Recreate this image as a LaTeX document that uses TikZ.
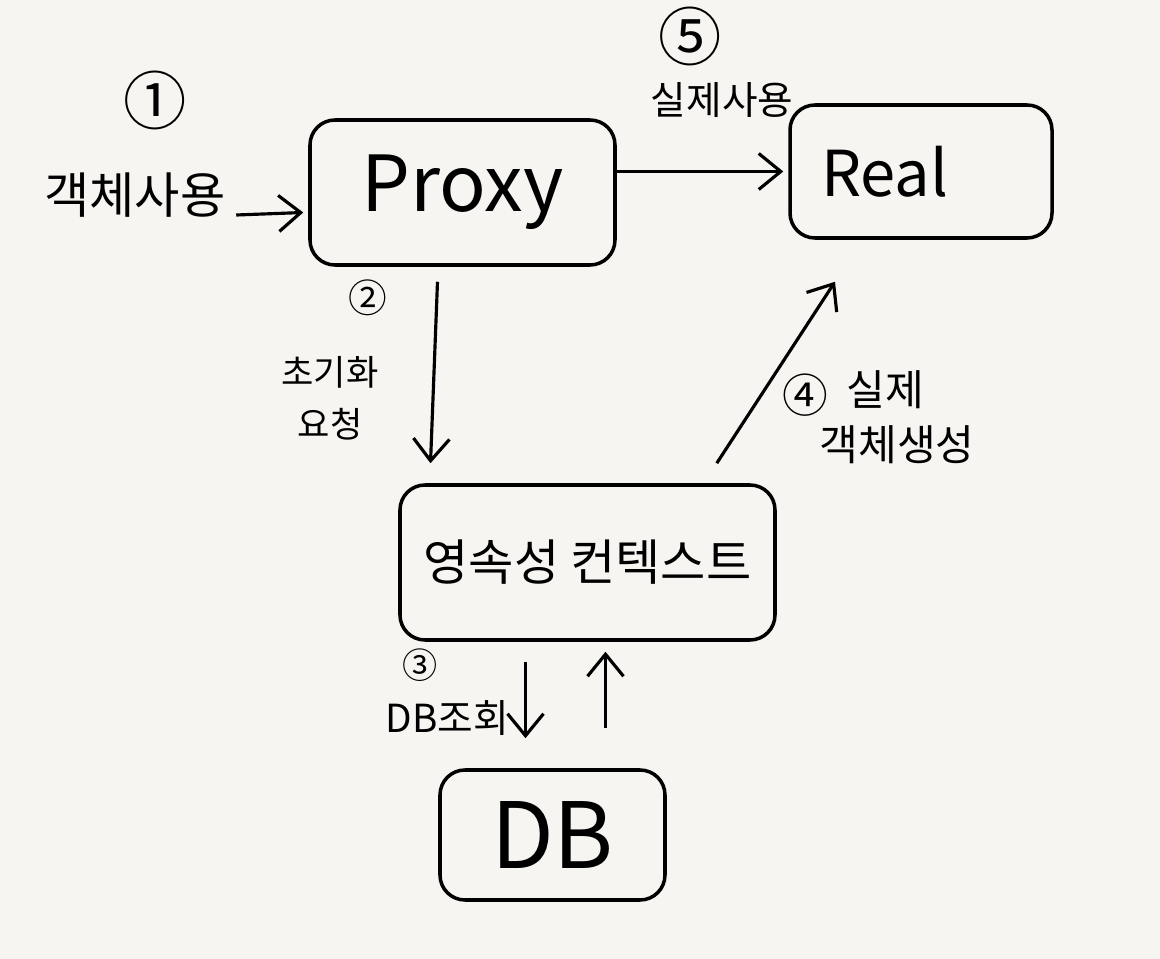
\documentclass[tikz,border=0pt]{standalone}
\usepackage{fontspec}
\setmainfont{Noto Sans CJK KR}
\usetikzlibrary{arrows.meta,calc}
\definecolor{paper}{HTML}{F6F5F1}
\def\fs#1{\fontsize{#1}{#1}\selectfont}
\tikzset{
	box/.style={draw, line width=1pt, rounded corners=2.5mm, inner sep=0pt},
	arr/.style={-{Straight Barb[length=2.2mm,width=3.6mm]}, line width=0.9pt},
	lbl/.style={inner sep=0pt, align=center}
}

\begin{document}
\begin{tikzpicture}
			%%%%% START %%%%%
			
			\fill[paper] (0, 0) rectangle (11.6, -9.59);
			\useasboundingbox (0, 0) rectangle (11.6, -9.59);
			
			\node[box, minimum width=3.05cm, minimum height=1.45cm] (proxy) at (4.625, -1.925) {\fs{22}Proxy};
			\node[box, text width=2.0cm, inner xsep=3.1mm, minimum height=1.33cm, align=left] (real) at (9.21, -1.715) {\fs{18}Real};
			\node[box, minimum width=3.75cm, minimum height=1.55cm] (ctx) at (5.875, -5.625) {\fs{14}영속성 컨텍스트};
			\node[box, minimum width=2.25cm, minimum height=1.3cm] (db) at (5.525, -8.35) {\fs{26}DB};
			
			\node[lbl] (one) at (1.55, -1.0) {\fs{18}①};
			\node[lbl] (uselbl) at (1.35, -1.95) {\fs{14}객체사용};
			\draw[arr] ([xshift=1mm, yshift=-2mm]uselbl.east) -- ([xshift=-0.5mm, yshift=-2mm]proxy.west);
			
			\node[lbl] (five) at (6.9, -0.36) {\fs{18}⑤};
			\node[lbl] (reallbl) at (7.22, -1.0) {\fs{11}실제사용};
			\draw[arr] (proxy.east |- real.west) -- ([xshift=-0.5mm]real.west);
			
			\node[lbl] (two) at (3.68, -2.98) {\fs{11}②};
			\node[lbl] (initlbl) at (3.3, -3.98) {\fs{10}초기화\\[1mm]요청};
			\draw[arr] ([xshift=-2.5mm, yshift=-1.5mm]proxy.south) -- ([xshift=-3.2mm, yshift=2mm]proxy.south |- ctx.north);
			
			\node[lbl] (four) at (8.05, -3.95) {\fs{13}④};
			\node[lbl] (makelbl) at (8.85, -3.9) {\fs{12}실제};
			\node[lbl] (objlbl) at (8.97, -4.45) {\fs{12}객체생성};
			\draw[arr] ([xshift=-6mm, yshift=2mm]ctx.north east) -- ([xshift=-8.6mm, yshift=-4.2mm]real.south);
			
			\node[lbl] (three) at (4.2, -6.65) {\fs{10}③};
			\node[lbl] (dblbl) at (4.47, -7.18) {\fs{11}DB조회};
			\draw[arr] ([xshift=-2.7mm, yshift=-2mm]ctx.south -| db.north) -- ([xshift=-2.7mm, yshift=3mm]db.north);
			\draw[arr] ([xshift=5.3mm, yshift=4mm]db.north) -- ([xshift=5.3mm, yshift=-1mm]ctx.south -| db.north);
			
			%%%%% END %%%%%
		\end{tikzpicture}
\end{document}
